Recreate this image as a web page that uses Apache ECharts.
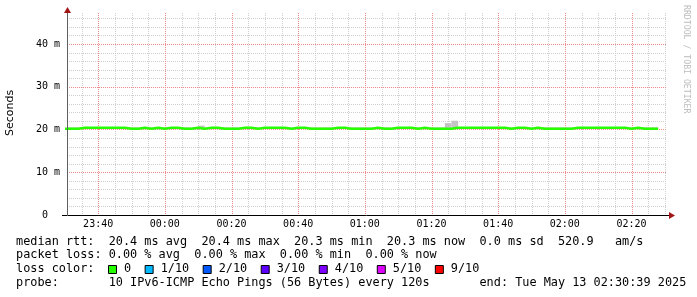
<!DOCTYPE html>
<html><head><meta charset="utf-8">
<script src="https://cdn.jsdelivr.net/npm/echarts@6/dist/echarts.min.js"></script>
<style>html,body{margin:0;padding:0;background:#fff}#c{width:697px;height:297px}</style>
</head><body><div id="c"></div>
<script>
// ---- data ----
// time in minutes relative to 00:00 (negative = previous day)
const viewStart = -29.35;   // 23:30:39
const viewEnd = 150.65;     // 02:30:39
const firstStep = -30;      // first 120 s interval starts 23:30
const stepMinutes = 2;
// median rtt (ms) per 2-minute interval
const median = [
  20.2,20.2,20.4,20.4,20.4,20.4,20.4,20.4,20.4,20.2,
  20.2,20.4,20.2,20.4,20.2,20.4,20.4,20.2,20.2,20.4,
  20.2,20.4,20.4,20.2,20.2,20.2,20.4,20.4,20.2,20.4,
  20.4,20.4,20.4,20.2,20.4,20.4,20.2,20.2,20.2,20.2,
  20.4,20.4,20.2,20.2,20.2,20.2,20.4,20.2,20.2,20.4,
  20.4,20.4,20.2,20.4,20.2,20.2,20.2,20.2,20.4,20.4,
  20.4,20.4,20.4,20.4,20.4,20.4,20.2,20.4,20.4,20.2,
  20.4,20.2,20.2,20.2,20.2,20.2,20.4,20.4,20.4,20.4,
  20.4,20.4,20.4,20.4,20.2,20.4,20.2,20.2,20.2
];
// highest ping (smoke top) per interval
const smokeTop = [
  20.5,20.5,20.5,20.5,20.5,20.5,20.5,20.5,20.5,20.5,
  20.5,20.5,20.5,20.5,20.5,20.5,20.5,20.5,20.5,20.5,
  20.9,20.5,20.5,20.5,20.5,20.5,20.5,20.5,20.5,20.5,
  20.5,20.5,20.5,20.5,20.5,20.5,20.5,20.5,20.5,20.5,
  20.5,20.5,20.5,20.5,20.5,20.5,20.5,20.5,20.5,20.5,
  20.5,20.5,20.5,20.5,20.5,20.5,20.5,21.5,22.05,20.5,
  20.5,20.5,20.5,20.5,20.5,20.5,20.5,20.5,20.5,20.5,
  20.5,20.5,20.5,20.5,20.5,20.5,20.5,20.5,20.5,20.5,
  20.5,20.5,20.5,20.5,20.5,20.5,20.5,20.5,20.5
];
const yMax = 47.25;
const yMajorStep = 10, yMinorStep = 2;
const xMajorStep = 20, xMinorStep = 5;
const lossLabels = ['0','1/10','2/10','3/10','4/10','5/10','9/10'];
const lossColors = ['#26ff00','#00b8ff','#0059ff','#5e00ff','#7e00ff','#dd00ff','#ff0000'];
const rttLine = 'median rtt:  20.4 ms avg  20.4 ms max  20.3 ms min  20.3 ms now  0.0 ms sd  520.9   am/s';
const lossLine = 'packet loss: 0.00 % avg  0.00 % max  0.00 % min  0.00 % now';
const probeLine = 'probe:       10 IPv6-ICMP Echo Pings (56 Bytes) every 120s       end: Tue May 13 02:30:39 2025';
const yTitle = 'Seconds';
const watermark = 'RRDTOOL / TOBI OETIKER';

// ---- build ----
const stepX = median.map((v, i) => firstStep + i * stepMinutes);
const endX = firstStep + median.length * stepMinutes;
const lineData = median.map((v, i) => [stepX[i], v]).concat([[endX, median[median.length - 1]]]);
const smokeData = smokeTop.map((v, i) => [stepX[i], stepX[i] + stepMinutes, median[i], v]);

// grid line positions
const xMinor = [], xMajor = [], yMinor = [], yMajor = [];
for (let v = Math.ceil(viewStart / xMinorStep) * xMinorStep; v < viewEnd; v += xMinorStep) {
  (Math.abs(v % xMajorStep) < 1e-9 ? xMajor : xMinor).push(v);
}
for (let v = yMinorStep; v < yMax; v += yMinorStep) {
  (Math.abs(v % yMajorStep) < 1e-9 ? yMajor : yMinor).push(v);
}

function clock(v) {
  let m = Math.round(v); if (m < 0) m += 1440;
  const h = Math.floor(m / 60), mm = m % 60;
  return (h < 10 ? '0' : '') + h + ':' + (mm < 10 ? '0' : '') + mm;
}
const mono = "'DejaVu Sans Mono', monospace";
const minorCol = '#cfcfcf', majorCol = '#f08c8c';

function gridSeries(values, vertical, color, z) {
  return {type:'custom', data:values.map(v => vertical ? [v, 0] : [viewStart, v]), silent:true, z:z,
    renderItem:function(params, api){
      const cs = params.coordSys;
      if (vertical) {
        const x = Math.round(api.coord([api.value(0), 0])[0]) + 0.5;
        return {type:'line', shape:{x1:x, y1:cs.y, x2:x, y2:cs.y + cs.height},
                style:{stroke:color, lineWidth:1, lineDash:[1,1], fill:null}};
      }
      const y = Math.round(api.coord([viewStart, api.value(1)])[1]) + 0.5;
      return {type:'line', shape:{x1:cs.x, y1:y, x2:cs.x + cs.width, y2:y},
              style:{stroke:color, lineWidth:1, lineDash:[1,1], fill:null}};
    },
    encode:{x:0, y:1}};
}

const graphics = [];
graphics.push({type:'text', x:10, y:113, rotation:Math.PI/2,
  style:{text:yTitle, font:"11px 'DejaVu Sans'", fill:'#000', align:'center', verticalAlign:'middle', textAlign:'center', textVerticalAlign:'middle'}});
graphics.push({type:'text', x:686, y:5, rotation:-Math.PI/2,
  style:{text:watermark, font:"8.2px " + mono, fill:'#bdbdbd', align:'left', verticalAlign:'middle', textAlign:'left', textVerticalAlign:'middle'}});
// axis arrows & extensions
graphics.push({type:'line', shape:{x1:62, y1:215.5, x2:671, y2:215.5}, style:{stroke:'#000', lineWidth:1}, z:10});
graphics.push({type:'line', shape:{x1:67.5, y1:10, x2:67.5, y2:216}, style:{stroke:'#606060', lineWidth:1}, z:10});
graphics.push({type:'polygon', shape:{points:[[64,13],[71,13],[67.5,7]]}, style:{fill:'#a31515'}, z:11});
graphics.push({type:'polygon', shape:{points:[[669,212],[669,219],[675,215.5]]}, style:{fill:'#a31515'}, z:11});
// text rows
const rowY = [241.5, 255.3, 269, 282.8];
const rowFont = "11.85px " + mono;
[[rttLine,0],[lossLine,1],['loss color:',2],[probeLine,3]].forEach(([t, r]) => {
  graphics.push({type:'text', x:16, y:rowY[r], style:{text:t, font:rowFont, fill:'#000', align:'left', verticalAlign:'middle', textAlign:'left', textVerticalAlign:'middle'}});
});
let lx = 108.5;
lossLabels.forEach((lab, i) => {
  graphics.push({type:'rect', shape:{x:lx, y:265.5, width:8, height:8}, style:{fill:lossColors[i], stroke:'#000', lineWidth:1}});
  graphics.push({type:'text', x:lx + 15.5, y:rowY[2], style:{text:lab, font:rowFont, fill:'#000', align:'left', verticalAlign:'middle', textAlign:'left', textVerticalAlign:'middle'}});
  lx += lab.length * 7.135 + 29.5;
});

const chart = echarts.init(document.getElementById('c'), null, {renderer:'canvas'});
chart.setOption({
  animation:false,
  backgroundColor:'#fff',
  grid:{left:67, right:30, top:13, bottom:82, containLabel:false},
  xAxis:{type:'value', position:'bottom', min:viewStart, max:viewEnd, splitNumber:9,
     axisLine:{show:false}, axisTick:{show:false},
     axisLabel:{show:true, showMinLabel:false, showMaxLabel:false, margin:4, formatter:clock,
       fontFamily:'DejaVu Sans Mono', fontSize:10, color:'#000'},
     splitLine:{show:false}},
  yAxis:{type:'value', position:'left', min:0, max:yMax, interval:yMajorStep,
     axisLine:{show:false}, axisTick:{show:false},
     axisLabel:{show:true, showMaxLabel:false, margin:7,
       formatter:v => v === 0 ? '0\u00a0\u00a0' : v + ' m',
       fontFamily:'DejaVu Sans Mono', fontSize:10, color:'#000'},
     splitLine:{show:false}},
  series:[
    gridSeries(xMinor, true, minorCol, 1),
    gridSeries(yMinor, false, minorCol, 1),
    gridSeries(xMajor, true, majorCol, 1),
    gridSeries(yMajor, false, majorCol, 1),
    {type:'custom', data:smokeData, silent:true, z:2,
     renderItem:function(params, api){
       const p0 = api.coord([api.value(0), api.value(3)]);
       const p1 = api.coord([api.value(1), api.value(2)]);
       const shape = echarts.graphic.clipRectByRect(
         {x:p0[0], y:p0[1], width:p1[0]-p0[0], height:p1[1]-p0[1]},
         {x:params.coordSys.x, y:params.coordSys.y, width:params.coordSys.width, height:params.coordSys.height});
       return shape && {type:'rect', shape:shape, style:{fill:'#c4c4c4'}};
     },
     encode:{x:[0,1], y:[2,3]}},
    {type:'line', step:'end', data:lineData,
     showSymbol:false, symbol:'none', lineStyle:{color:'#26ff00', width:2.5}, silent:true, z:3}
  ],
  graphic:graphics
});
</script></body></html>
